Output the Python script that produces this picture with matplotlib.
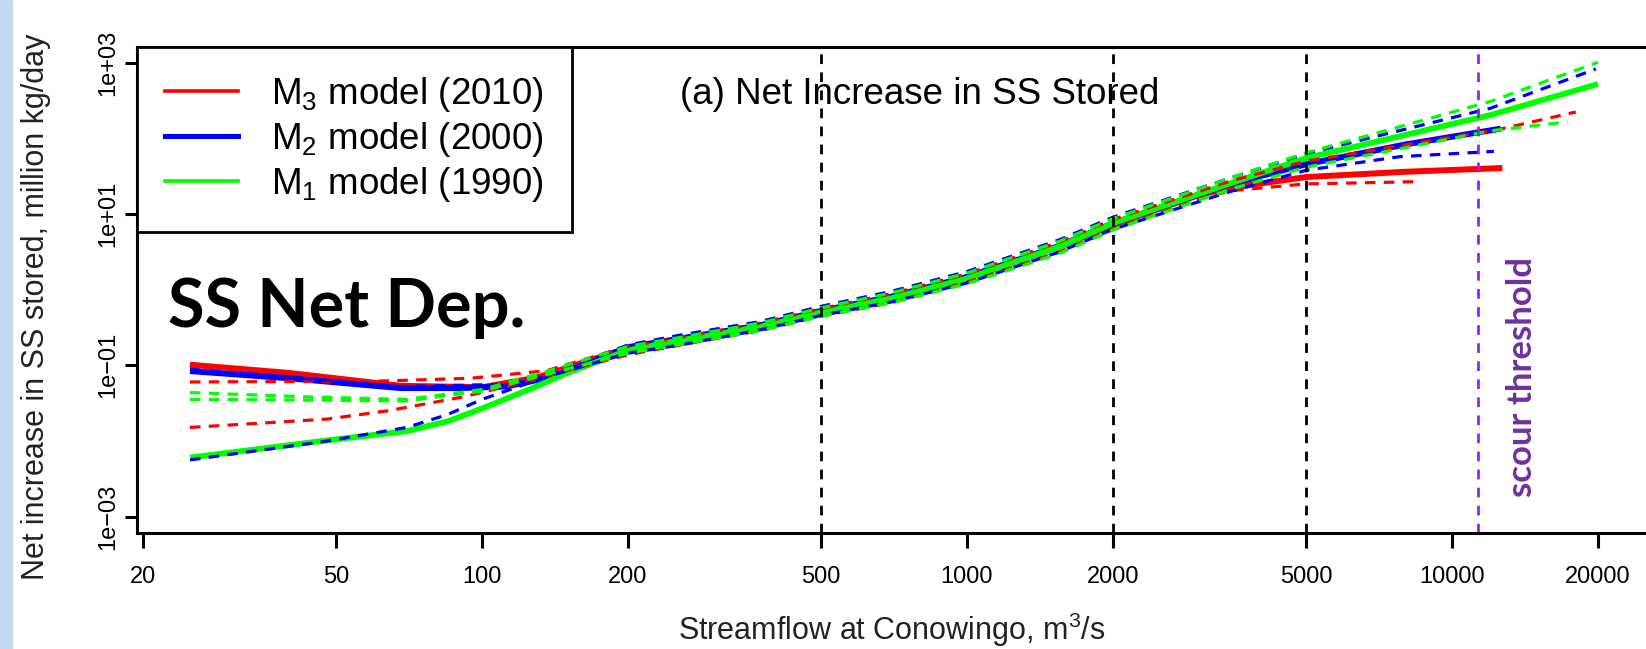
import matplotlib
matplotlib.use("Agg")
import matplotlib.pyplot as plt
from matplotlib.lines import Line2D
from matplotlib.patches import Rectangle

plt.rcParams['font.family'] = ['Liberation Sans', 'DejaVu Sans']
plt.rcParams['mathtext.fontset'] = 'custom'
plt.rcParams['mathtext.rm'] = 'Liberation Sans'
plt.rcParams['mathtext.it'] = 'Liberation Sans:italic'

# streamflow (m3/s) and net increase in SS stored (million kg/day)
# M3 model (2010)
m3_q = [25, 40, 68, 100, 130, 200, 375, 500, 700, 1000, 1550, 2000, 3000, 3500, 5000, 8000, 12700]
m3_fit = [0.102, 0.0794, 0.0537, 0.0513, 0.0692, 0.170, 0.331, 0.513, 0.794, 1.45, 3.72, 7.24, 17.8, 22.4, 30.9, 36.3, 40.7]
m3_up_q = [25, 60, 95, 136, 200, 256, 375, 500, 700, 1000, 1550, 2000, 3500, 5000, 12500, 18000]
m3_up = [0.0603, 0.0617, 0.0676, 0.0851, 0.178, 0.234, 0.363, 0.562, 0.891, 1.62, 4.27, 8.51, 27.5, 50.1, 132, 224]
m3_lo_q = [25, 48, 64, 91, 126, 160, 200, 256, 375, 500, 700, 1000, 1550, 2000, 3000, 3500, 5000, 8600]
m3_lo = [0.0151, 0.0195, 0.0251, 0.0380, 0.0631, 0.0955, 0.138, 0.186, 0.288, 0.447, 0.676, 1.26, 3.16, 6.31, 15.8, 20.4, 25.1, 26.9]

# M2 model (2000)
m2_q = [25, 40, 68, 90, 112, 140, 200, 375, 500, 700, 1000, 1550, 2000, 3500, 5000, 8000, 12600]
m2_fit = [0.0841, 0.0676, 0.0501, 0.0501, 0.0525, 0.0708, 0.174, 0.339, 0.525, 0.813, 1.48, 3.80, 7.59, 25.1, 45.7, 83.2, 135]
m2_up_q = [25, 68, 112, 150, 200, 256, 375, 500, 700, 1000, 1550, 2000, 3500, 5000, 12000, 19800]
m2_up = [0.0891, 0.0525, 0.0562, 0.0955, 0.186, 0.251, 0.380, 0.603, 0.955, 1.74, 4.57, 9.12, 30.2, 63.1, 251, 832]
m2_lo_q = [25, 48, 70, 85, 100, 136, 200, 256, 375, 500, 700, 1000, 1550, 2000, 3500, 5000, 7800, 12200]
m2_lo = [0.00562, 0.0100, 0.0151, 0.0224, 0.0355, 0.0708, 0.145, 0.186, 0.295, 0.457, 0.692, 1.23, 3.16, 6.31, 20.0, 38.0, 57.5, 67.6]

# M1 model (1990)
m1_q = [25, 48, 70, 85, 100, 125, 150, 200, 256, 375, 500, 700, 1000, 1550, 2000, 3500, 5000, 12000, 20000]
m1_fit = [0.00603, 0.0102, 0.0135, 0.0182, 0.0269, 0.0479, 0.0794, 0.158, 0.214, 0.324, 0.501, 0.776, 1.41, 3.72, 7.59, 25.7, 55.0, 204, 525]
m1_up_q = [25, 45, 70, 100, 136, 200, 256, 375, 500, 700, 1000, 1550, 2000, 3500, 5000, 12000, 20000]
m1_up = [0.0437, 0.0380, 0.0355, 0.0479, 0.0832, 0.178, 0.234, 0.363, 0.575, 0.912, 1.66, 4.37, 8.71, 30.2, 64.6, 309, 1020]
m1_lo_q = [25, 45, 70, 100, 136, 200, 256, 375, 500, 700, 1000, 1550, 2000, 3500, 5000, 12000, 17300]
m1_lo = [0.0355, 0.0347, 0.0339, 0.0457, 0.0759, 0.145, 0.191, 0.288, 0.447, 0.676, 1.20, 3.02, 6.17, 21.4, 41.7, 126, 166]

ref_flows = [500, 2000, 5000]
scour_flow = 11300

x_ticks = [20, 50, 100, 200, 500, 1000, 2000, 5000, 10000, 20000]
x_tick_labels = ['20', '50', '100', '200', '500', '1000', '2000', '5000', '10000', '20000']
y_ticks = [1e-3, 1e-1, 1e1, 1e3]
y_tick_labels = ['1e\u221203', '1e\u221201', '1e+01', '1e+03']

RED, BLUE, GREEN = '#FF0000', '#0000FF', '#00FF00'
dash = (0, (3.3, 2.6))

fig = plt.figure(figsize=(16.46, 6.49), dpi=100)
W, H = 1646, 649
ax = fig.add_axes([137 / W, (H - 532.5) / H, (1662 - 137) / W, (532.5 - 47) / H])

# thick solid fits first, dashed bounds on top
ax.plot(m3_q, m3_fit, color=RED, lw=4.3, solid_capstyle='butt')
ax.plot(m2_q, m2_fit, color=BLUE, lw=4.3, solid_capstyle='butt')
ax.plot(m1_q, m1_fit, color=GREEN, lw=4.2, solid_capstyle='butt')
for q, v, c in [(m3_up_q, m3_up, RED), (m3_lo_q, m3_lo, RED),
                (m2_up_q, m2_up, BLUE), (m2_lo_q, m2_lo, BLUE),
                (m1_up_q, m1_up, GREEN), (m1_lo_q, m1_lo, GREEN)]:
    ax.plot(q, v, color=c, lw=2.3, ls=dash)

for f in ref_flows:
    ax.axvline(f, color='black', lw=2, ls=(0, (3.5, 3)))
ax.axvline(scour_flow, color='#A020F0', lw=2, ls=(0, (3.5, 3)))

ax.set_xscale('log')
ax.set_yscale('log')
ax.set_xlim(19.44, 27100)
ax.set_ylim(10 ** -3.21, 10 ** 3.21)
ax.set_xticks(x_ticks)
ax.set_xticklabels(x_tick_labels)
ax.set_yticks(y_ticks)
ax.set_yticklabels(y_tick_labels, rotation=90, va='center')
ax.minorticks_off()
ax.tick_params(axis='x', length=11, width=2.2, pad=13, labelsize=17)
ax.tick_params(axis='y', length=9, width=2.2, pad=4, labelsize=17)
for s in ['left', 'bottom', 'top']:
    ax.spines[s].set_linewidth(2.2)
ax.spines['right'].set_visible(False)

ax.set_xlabel(r'Streamflow at Conowingo, m$^3$/s', fontsize=22, color='#222222')
ax.xaxis.set_label_coords(0.495, -0.20)
ax.xaxis.label.set_va('center')
ax.set_ylabel('Net increase in SS stored, million kg/day', fontsize=22, color='#222222')
ax.yaxis.set_label_coords(-0.066, 0.465)
ax.yaxis.label.set_va('center')

ax.text(0.513, 0.903, '(a) Net Increase in SS Stored', transform=ax.transAxes,
        ha='center', va='center', fontsize=26.5)
ax.text(0.0203, 0.423, 'SS Net Dep.', transform=ax.transAxes, ha='left', va='baseline',
        fontsize=48, fontweight='bold', family=['Lato', 'DejaVu Sans'])
ax.text(0.908, 0.32, 'scour threshold', transform=ax.transAxes, ha='center', va='center',
        rotation=90, fontsize=25, fontweight='bold', color='#7030A0', family=['Lato', 'DejaVu Sans'])

handles = [Line2D([], [], color=RED, lw=2.6),
           Line2D([], [], color=BLUE, lw=3.6),
           Line2D([], [], color=GREEN, lw=2.6)]
labels = [r'M$_3$ model (2010)', r'M$_2$ model (2000)', r'M$_1$ model (1990)']
leg = ax.legend(handles, labels, loc='upper left', bbox_to_anchor=(0, 1), borderaxespad=0,
                fontsize=26.5, frameon=True, fancybox=False, edgecolor='black', framealpha=1,
                handlelength=2.0, handletextpad=0.9, borderpad=0.75, labelspacing=0.17)
leg.get_frame().set_linewidth(2)

# light blue slide edge on the left
fig.patches.append(Rectangle((0, 0), 12 / W, 1, transform=fig.transFigure,
                             color='#C6D9F1', zorder=0))

fig.savefig('out.png', dpi=100)
